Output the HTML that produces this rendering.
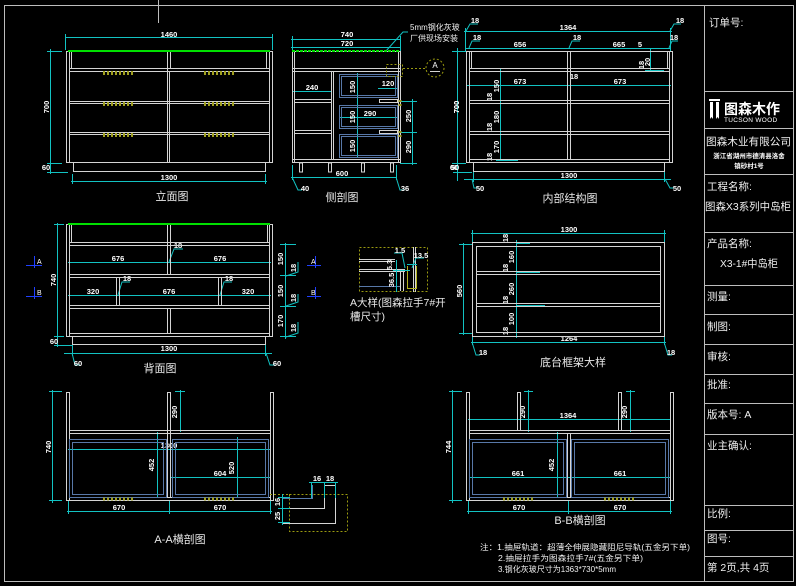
<!DOCTYPE html>
<html><head><meta charset="utf-8"><style>
html,body{margin:0;padding:0;background:#000;}
svg{display:block}
.w{stroke:#d4d4d4;stroke-width:1;fill:none}
.w2{stroke:#bdbdbd;stroke-width:1;fill:none}
.c{stroke:#12c2c2;stroke-width:1;fill:none}
.g{stroke:#00e000;stroke-width:2}
.o{stroke:#9a9a10;stroke-width:1;fill:none;stroke-dasharray:2 2}
.oh{stroke:#a0a020;stroke-width:4;stroke-dasharray:2 2}
.b{stroke:#5878a8;stroke-width:1;fill:none}
.bl{stroke:#2040ff;stroke-width:1}
text{font-family:"Liberation Sans","Noto Sans CJK SC",sans-serif;fill:#fff}
.d{font-size:7.5px;font-weight:bold;text-anchor:middle}
.l{font-size:11px;text-anchor:middle;fill:#e8e8e8}
.t{font-size:10.5px;fill:#f0f0f0}
.n{font-size:8px;fill:#f0f0f0}
</style></head><body>
<svg width="796" height="586" viewBox="0 0 796 586" xmlns="http://www.w3.org/2000/svg">
<rect width="796" height="586" fill="#000"/>
<!-- border -->
<rect x="4.5" y="5.5" width="789" height="576" class="w2"/>
<line x1="158.5" y1="0" x2="158.5" y2="23" class="w2"/>
<line x1="704.5" y1="5" x2="704.5" y2="581" class="w2"/>
<g class="w2">
<line x1="704" y1="91.5" x2="793" y2="91.5"/>
<line x1="704" y1="128.5" x2="793" y2="128.5"/>
<line x1="704" y1="174.5" x2="793" y2="174.5"/>
<line x1="704" y1="232.5" x2="793" y2="232.5"/>
<line x1="704" y1="285.5" x2="793" y2="285.5"/>
<line x1="704" y1="314.5" x2="793" y2="314.5"/>
<line x1="704" y1="344.5" x2="793" y2="344.5"/>
<line x1="704" y1="374.5" x2="793" y2="374.5"/>
<line x1="704" y1="403.5" x2="793" y2="403.5"/>
<line x1="704" y1="434.5" x2="793" y2="434.5"/>
<line x1="704" y1="505.5" x2="793" y2="505.5"/>
<line x1="704" y1="530.5" x2="793" y2="530.5"/>
<line x1="704" y1="556.5" x2="793" y2="556.5"/>
</g>
<!-- title block text -->
<text x="709" y="26" class="t">订单号:</text>
<g>
<path d="M709 99 h11 v2 h-11z M710 102 h3 v17 l-1.5 -2 -1.5 2z M716 102 h3 v17 l-1.5 -2 -1.5 2z" fill="#fff"/>
<text x="724" y="114" style="font-size:14px;font-weight:bold">图森木作</text>
<text x="724" y="122" style="font-size:6.5px;letter-spacing:0.3px">TUCSON WOOD</text>
</g>
<text x="706" y="145" class="t" textLength="85" lengthAdjust="spacingAndGlyphs">图森木业有限公司</text>
<text x="749" y="158" style="font-size:6.5px;font-weight:bold;text-anchor:middle">浙江省湖州市德清县洛舍</text>
<text x="749" y="168" style="font-size:6.5px;font-weight:bold;text-anchor:middle">镇砂村1号</text>
<text x="707" y="190" class="t">工程名称:</text>
<text x="705" y="210" class="t" textLength="86" lengthAdjust="spacingAndGlyphs">图森X3系列中岛柜</text>
<text x="707" y="247" class="t">产品名称:</text>
<text x="720" y="267" class="t" textLength="58" lengthAdjust="spacingAndGlyphs">X3-1#中岛柜</text>
<text x="707" y="300" class="t">测量:</text>
<text x="707" y="330" class="t">制图:</text>
<text x="707" y="360" class="t">审核:</text>
<text x="707" y="388" class="t">批准:</text>
<text x="707" y="418" class="t">版本号: A</text>
<text x="707" y="449" class="t">业主确认:</text>
<text x="707" y="517" class="t">比例:</text>
<text x="707" y="542" class="t">图号:</text>
<text x="707" y="571" class="t">第 2页,共 4页</text>

<!-- ========== 立面图 ========== -->
<g class="c">
<line x1="65" y1="37.5" x2="273" y2="37.5"/>
<line x1="65.5" y1="34" x2="65.5" y2="50"/><line x1="272.5" y1="34" x2="272.5" y2="50"/>
<line x1="50.5" y1="49" x2="50.5" y2="174"/>
<line x1="47" y1="51.5" x2="62" y2="51.5"/><line x1="47" y1="163.5" x2="62" y2="163.5"/><line x1="47" y1="172.5" x2="68" y2="172.5"/>
<line x1="71" y1="181.5" x2="267" y2="181.5"/>
<line x1="72.5" y1="174" x2="72.5" y2="184"/><line x1="265.5" y1="174" x2="265.5" y2="184"/>
</g>
<text x="169" y="37" class="d">1460</text>
<text class="d" transform="translate(49,107) rotate(-90)">700</text>
<text x="46" y="170" class="d">60</text>
<text x="169" y="180" class="d">1300</text>
<g class="w">
<rect x="66.5" y="51.5" width="206" height="111"/>
<line x1="69.5" y1="52" x2="69.5" y2="162"/><line x1="269.5" y1="52" x2="269.5" y2="162"/>
<line x1="71.5" y1="52" x2="71.5" y2="68"/><line x1="266.5" y1="52" x2="266.5" y2="68"/>
<line x1="167.5" y1="52" x2="167.5" y2="162"/><line x1="170.5" y1="52" x2="170.5" y2="68"/><line x1="169.5" y1="71" x2="169.5" y2="162"/>
<line x1="69" y1="68.5" x2="270" y2="68.5"/><line x1="69" y1="71.5" x2="270" y2="71.5"/>
<line x1="69" y1="101.5" x2="270" y2="101.5"/><line x1="69" y1="103.5" x2="270" y2="103.5"/>
<line x1="69" y1="132.5" x2="270" y2="132.5"/><line x1="69" y1="134.5" x2="270" y2="134.5"/>
<rect x="73.5" y="162.5" width="192" height="9"/>
</g>
<line x1="68" y1="51" x2="270" y2="51" class="g"/>
<g class="oh">
<line x1="103" y1="73" x2="134" y2="73"/><line x1="204" y1="73" x2="235" y2="73"/>
<line x1="103" y1="104" x2="134" y2="104"/><line x1="204" y1="104" x2="235" y2="104"/>
<line x1="103" y1="135" x2="134" y2="135"/><line x1="204" y1="135" x2="235" y2="135"/>
</g>
<text x="172" y="200" class="l">立面图</text>

<!-- ========== 侧剖图 ========== -->
<g class="c">
<line x1="291" y1="39.5" x2="401" y2="39.5"/>
<line x1="291" y1="47.5" x2="401" y2="47.5"/>
<line x1="292.5" y1="36" x2="292.5" y2="52"/><line x1="400.5" y1="36" x2="400.5" y2="52"/>
<polyline points="386,51 403,32 408,32"/>
<line x1="457.5" y1="48" x2="457.5" y2="170"/>
<line x1="452" y1="51.5" x2="462" y2="51.5"/><line x1="452" y1="163.5" x2="462" y2="163.5"/>
<line x1="412.5" y1="99" x2="412.5" y2="165"/>
<line x1="400" y1="101.5" x2="417" y2="101.5"/><line x1="400" y1="132.5" x2="417" y2="132.5"/><line x1="400" y1="163.5" x2="417" y2="163.5"/>
<line x1="357.5" y1="73" x2="357.5" y2="158"/>
<line x1="292" y1="91.5" x2="331" y2="91.5"/>
<line x1="378" y1="88.5" x2="398" y2="88.5"/>
<line x1="339" y1="117.5" x2="398" y2="117.5"/>
<line x1="291" y1="177.5" x2="397" y2="177.5"/>
<line x1="292.5" y1="165" x2="292.5" y2="180"/><line x1="396.5" y1="165" x2="396.5" y2="180"/>
<polyline points="292,177 298,190 302,190"/>
<polyline points="396,177 400,190 404,190"/>
</g>
<text x="347" y="37" class="d">740</text>
<text x="347" y="46" class="d">720</text>
<text x="410" y="30" class="n">5mm钢化灰玻</text>
<text x="410" y="41" class="n">厂供现场安装</text>
<text class="d" transform="translate(459,107) rotate(-90)">700</text>
<text x="454" y="170" class="d">60</text>
<text class="d" transform="translate(411,116) rotate(-90)">250</text>
<text class="d" transform="translate(411,147) rotate(-90)">290</text>
<text class="d" transform="translate(355,87) rotate(-90)">150</text>
<text class="d" transform="translate(355,117) rotate(-90)">150</text>
<text class="d" transform="translate(355,146) rotate(-90)">150</text>
<text x="312" y="90" class="d">240</text>
<text x="388" y="86" class="d">120</text>
<text x="370" y="116" class="d">290</text>
<text x="342" y="176" class="d">600</text>
<text x="305" y="191" class="d">40</text>
<text x="405" y="191" class="d">36</text>
<g class="w">
<rect x="292.5" y="51.5" width="108" height="111"/>
<line x1="294.5" y1="52" x2="294.5" y2="162"/><line x1="398.5" y1="52" x2="398.5" y2="162"/>
<line x1="293" y1="68.5" x2="400" y2="68.5"/><line x1="293" y1="71.5" x2="400" y2="71.5"/>
<line x1="331.5" y1="71" x2="331.5" y2="160"/><line x1="333.5" y1="71" x2="333.5" y2="160"/>
<line x1="294" y1="99.5" x2="331" y2="99.5"/><line x1="294" y1="102.5" x2="331" y2="102.5"/>
<line x1="294" y1="130.5" x2="331" y2="130.5"/><line x1="294" y1="133.5" x2="331" y2="133.5"/>
<line x1="293" y1="159.5" x2="400" y2="159.5"/>
<rect x="379.5" y="99.5" width="18" height="3"/>
<rect x="379.5" y="130.5" width="18" height="3"/>
<rect x="299.5" y="163" width="3" height="9"/><rect x="328.5" y="163" width="3" height="9"/>
<rect x="361.5" y="163" width="3" height="9"/><rect x="390.5" y="163" width="3" height="9"/>
</g>
<g class="b">
<rect x="339.5" y="74.5" width="58" height="23"/><rect x="341.5" y="76.5" width="54" height="19"/>
<rect x="339.5" y="105.5" width="58" height="23"/><rect x="341.5" y="107.5" width="54" height="19"/>
<rect x="339.5" y="134.5" width="58" height="23"/><rect x="341.5" y="136.5" width="54" height="19"/>
</g>
<line x1="292" y1="51" x2="400" y2="51" class="g" style="stroke-dasharray:3 1"/>
<rect x="386.5" y="64.5" width="16" height="12" class="o"/>
<line x1="403" y1="68.5" x2="426" y2="68.5" class="o"/>
<circle cx="435" cy="68" r="9" class="o"/>
<text x="435" y="68" style="font-size:8px;text-anchor:middle">A</text>
<line x1="430" y1="71.5" x2="440" y2="71.5" class="w"/>
<g class="oh" style="stroke-width:3"><line x1="400" y1="100" x2="400" y2="106"/><line x1="400" y1="131" x2="400" y2="137"/></g>
<text x="342" y="201" class="l">侧剖图</text>

<!-- ========== 内部结构图 ========== -->
<g class="c">
<line x1="464" y1="31.5" x2="672" y2="31.5"/>
<line x1="465.5" y1="28" x2="465.5" y2="52"/><line x1="670.5" y1="28" x2="670.5" y2="52"/>
<polyline points="466,31 470,24 478,24"/><polyline points="670,31 674,24 681,24"/>
<line x1="466" y1="48.5" x2="671" y2="48.5"/>
<polyline points="469,48 472,41 480,41"/><polyline points="569,48 572,41 580,41"/><polyline points="669,48 672,41 678,41"/>
<line x1="467" y1="85.5" x2="671" y2="85.5"/>
<line x1="500.5" y1="69" x2="500.5" y2="161"/>
<line x1="496" y1="100.5" x2="512" y2="100.5"/><line x1="496" y1="131.5" x2="512" y2="131.5"/><line x1="496" y1="160.5" x2="518" y2="160.5"/>
<line x1="650.5" y1="48" x2="650.5" y2="72"/><line x1="645" y1="51.5" x2="664" y2="51.5"/><line x1="645" y1="70.5" x2="664" y2="70.5"/>
<line x1="457.5" y1="49" x2="457.5" y2="181"/>
<line x1="453" y1="51.5" x2="466" y2="51.5"/><line x1="453" y1="163.5" x2="466" y2="163.5"/><line x1="453" y1="172.5" x2="472" y2="172.5"/>
<line x1="464" y1="179.5" x2="671" y2="179.5"/>
<line x1="473.5" y1="170" x2="473.5" y2="182"/><line x1="664.5" y1="170" x2="664.5" y2="182"/>
<polyline points="472,179 474,188 478,188"/><polyline points="665,179 670,188 674,188"/>
</g>
<text x="568" y="30" class="d">1364</text>
<text x="475" y="23" class="d">18</text><text x="680" y="23" class="d">18</text>
<text x="477" y="40" class="d">18</text><text x="577" y="40" class="d">18</text><text x="674" y="40" class="d">18</text>
<text x="520" y="47" class="d">656</text><text x="619" y="47" class="d">665</text>
<text x="640" y="47" class="d">5</text>
<text class="d" transform="translate(650,62) rotate(-90)">20</text>
<text class="d" transform="translate(644,65) rotate(-90)">18</text>
<text x="520" y="84" class="d">673</text><text x="620" y="84" class="d">673</text>
<text x="574" y="79" class="d">18</text>
<text class="d" transform="translate(499,86) rotate(-90)">150</text>
<text class="d" transform="translate(499,117) rotate(-90)">180</text>
<text class="d" transform="translate(499,147) rotate(-90)">170</text>
<text class="d" transform="translate(492,97) rotate(-90)">18</text>
<text class="d" transform="translate(492,127) rotate(-90)">18</text>
<text class="d" transform="translate(492,157) rotate(-90)">18</text>
<text class="d" transform="translate(459,107) rotate(-90)">700</text>
<text x="455" y="170" class="d">50</text>
<text x="569" y="178" class="d">1300</text>
<text x="480" y="191" class="d">50</text><text x="677" y="191" class="d">50</text>
<g class="w">
<rect x="466.5" y="51.5" width="206" height="111"/>
<line x1="469.5" y1="52" x2="469.5" y2="162"/><line x1="669.5" y1="52" x2="669.5" y2="162"/>
<line x1="471.5" y1="52" x2="471.5" y2="68"/><line x1="667.5" y1="52" x2="667.5" y2="68"/>
<line x1="567.5" y1="52" x2="567.5" y2="160"/><line x1="570.5" y1="52" x2="570.5" y2="160"/>
<line x1="469" y1="68.5" x2="670" y2="68.5"/><line x1="469" y1="71.5" x2="670" y2="71.5"/>
<line x1="469" y1="100.5" x2="670" y2="100.5"/><line x1="469" y1="103.5" x2="670" y2="103.5"/>
<line x1="469" y1="131.5" x2="670" y2="131.5"/><line x1="469" y1="134.5" x2="670" y2="134.5"/>
<line x1="469" y1="159.5" x2="670" y2="159.5"/>
<rect x="473.5" y="162.5" width="191" height="9"/>
</g>
<text x="570" y="202" class="l">内部结构图</text>

<!-- ========== 背面图 ========== -->
<g class="c">
<line x1="57.5" y1="223" x2="57.5" y2="347"/>
<line x1="54" y1="224.5" x2="64" y2="224.5"/><line x1="54" y1="336.5" x2="64" y2="336.5"/><line x1="54" y1="345.5" x2="72" y2="345.5"/>
<line x1="64" y1="353.5" x2="272" y2="353.5"/>
<line x1="72.5" y1="342" x2="72.5" y2="356"/><line x1="265.5" y1="342" x2="265.5" y2="356"/>
<polyline points="72,353 75,365 80,365"/><polyline points="266,353 270,365 275,365"/>
<line x1="68" y1="262.5" x2="271" y2="262.5"/>
<line x1="68" y1="295.5" x2="271" y2="295.5"/>
<polyline points="169,262 174,249 183,249"/>
<polyline points="118,295 122,282 130,282"/>
<polyline points="220,295 224,282 232,282"/>
<line x1="285.5" y1="243" x2="285.5" y2="339"/>
<line x1="280" y1="244.5" x2="296" y2="244.5"/><line x1="280" y1="275.5" x2="296" y2="275.5"/><line x1="280" y1="306.5" x2="296" y2="306.5"/><line x1="280" y1="336.5" x2="296" y2="336.5"/>
<polyline points="286,276 298,272 298,262"/><polyline points="286,306 298,302 298,294"/><polyline points="286,337 298,333 298,322"/>
</g>
<text class="d" transform="translate(56,280) rotate(-90)">740</text>
<text x="54" y="344" class="d">60</text>
<text x="169" y="351" class="d">1300</text>
<text x="78" y="366" class="d">60</text><text x="277" y="366" class="d">60</text>
<text x="118" y="261" class="d">676</text><text x="220" y="261" class="d">676</text>
<text x="178" y="248" class="d">18</text>
<text x="93" y="294" class="d">320</text><text x="169" y="294" class="d">676</text><text x="248" y="294" class="d">320</text>
<text x="127" y="281" class="d">18</text><text x="229" y="281" class="d">18</text>
<text class="d" transform="translate(283,259) rotate(-90)">150</text>
<text class="d" transform="translate(283,291) rotate(-90)">150</text>
<text class="d" transform="translate(283,321) rotate(-90)">170</text>
<text class="d" transform="translate(296,268) rotate(-90)">18</text>
<text class="d" transform="translate(296,298) rotate(-90)">18</text>
<text class="d" transform="translate(296,328) rotate(-90)">18</text>
<g class="w">
<rect x="66.5" y="224.5" width="206" height="112"/>
<line x1="69.5" y1="225" x2="69.5" y2="336"/><line x1="269.5" y1="225" x2="269.5" y2="336"/>
<line x1="71.5" y1="225" x2="71.5" y2="242"/><line x1="267.5" y1="225" x2="267.5" y2="242"/>
<line x1="69" y1="242.5" x2="270" y2="242.5"/><line x1="69" y1="245.5" x2="270" y2="245.5"/>
<line x1="69" y1="274.5" x2="270" y2="274.5"/><line x1="69" y1="277.5" x2="270" y2="277.5"/>
<line x1="69" y1="305.5" x2="270" y2="305.5"/><line x1="69" y1="308.5" x2="270" y2="308.5"/>
<line x1="69" y1="333.5" x2="270" y2="333.5"/>
<line x1="167.5" y1="225" x2="167.5" y2="274"/><line x1="170.5" y1="225" x2="170.5" y2="274"/>
<line x1="167.5" y1="308" x2="167.5" y2="333"/><line x1="170.5" y1="308" x2="170.5" y2="333"/>
<line x1="116.5" y1="277" x2="116.5" y2="305"/><line x1="119.5" y1="277" x2="119.5" y2="305"/>
<line x1="218.5" y1="277" x2="218.5" y2="305"/><line x1="221.5" y1="277" x2="221.5" y2="305"/>
<rect x="72.5" y="336.5" width="193" height="8"/>
</g>
<line x1="68" y1="224" x2="270" y2="224" class="g"/>
<!-- section markers -->
<g class="bl">
<line x1="34.5" y1="256" x2="34.5" y2="268"/><line x1="26" y1="265.5" x2="42" y2="265.5"/>
<line x1="34.5" y1="287" x2="34.5" y2="299"/><line x1="26" y1="296.5" x2="42" y2="296.5"/>
<line x1="315.5" y1="256" x2="315.5" y2="268"/><line x1="307" y1="265.5" x2="321" y2="265.5"/>
<line x1="315.5" y1="287" x2="315.5" y2="299"/><line x1="307" y1="296.5" x2="321" y2="296.5"/>
</g>
<text x="37" y="264" style="font-size:7px">A</text><text x="37" y="295" style="font-size:7px">B</text>
<text x="311" y="264" style="font-size:7px">A</text><text x="311" y="295" style="font-size:7px">B</text>
<text x="160" y="372" class="l">背面图</text>

<!-- ========== A大样 ========== -->
<rect x="359.5" y="247.5" width="68" height="44" class="o"/>
<g class="w">
<line x1="359" y1="259.5" x2="395" y2="259.5"/><line x1="359" y1="261.5" x2="395" y2="261.5"/>
<line x1="359" y1="269.5" x2="405" y2="269.5"/><line x1="359" y1="271.5" x2="405" y2="271.5"/>
<line x1="413.5" y1="247" x2="413.5" y2="292"/><line x1="415.5" y1="247" x2="415.5" y2="292"/>
<line x1="400.5" y1="271" x2="400.5" y2="291"/><line x1="403.5" y1="271" x2="403.5" y2="291"/>
</g>
<line x1="359" y1="286.5" x2="400" y2="286.5" class="b"/>
<path d="M407.5 266 V288.5 H416.5 V266" stroke="#b0b020" fill="none"/>
<g class="c">
<line x1="393" y1="270.5" x2="410" y2="270.5"/>
<line x1="396.5" y1="260" x2="396.5" y2="292"/>
<polyline points="405,268 402,253 394,253"/>
<polyline points="412,268 416,258 424,258"/>
<line x1="407" y1="264.5" x2="417" y2="264.5"/>
</g>
<text x="400" y="253" class="d">1.5</text>
<text x="421" y="258" class="d">13.5</text>
<text class="d" transform="translate(392,265) rotate(-90)">5.3</text>
<text class="d" transform="translate(394,280) rotate(-90)">36.5</text>
<text x="350" y="306" style="font-size:10.5px;fill:#e8e8e8">A大样(图森拉手7#开</text>
<text x="350" y="320" style="font-size:10.5px;fill:#e8e8e8">槽尺寸)</text>

<!-- ========== 底台框架大样 ========== -->
<g class="c">
<line x1="471" y1="233.5" x2="666" y2="233.5"/>
<line x1="472.5" y1="230" x2="472.5" y2="242"/><line x1="664.5" y1="230" x2="664.5" y2="242"/>
<line x1="463.5" y1="243" x2="463.5" y2="335"/>
<line x1="459" y1="244.5" x2="472" y2="244.5"/><line x1="459" y1="333.5" x2="472" y2="333.5"/>
<line x1="516.5" y1="240" x2="516.5" y2="338"/>
<line x1="516" y1="243.5" x2="530" y2="243.5"/>
<line x1="516" y1="272.5" x2="540" y2="272.5"/><line x1="516" y1="305.5" x2="545" y2="305.5"/><line x1="516" y1="336.5" x2="550" y2="336.5"/>
<line x1="471" y1="342.5" x2="666" y2="342.5"/>
<line x1="472.5" y1="337" x2="472.5" y2="345"/><line x1="664.5" y1="337" x2="664.5" y2="345"/>
<polyline points="472,342 476,355 480,355"/><polyline points="664,342 668,355 672,355"/>
</g>
<text x="569" y="232" class="d">1300</text>
<text class="d" transform="translate(462,291) rotate(-90)">560</text>
<text class="d" transform="translate(508,238) rotate(-90)">18</text>
<text class="d" transform="translate(514,257) rotate(-90)">160</text>
<text class="d" transform="translate(508,268) rotate(-90)">18</text>
<text class="d" transform="translate(514,289) rotate(-90)">260</text>
<text class="d" transform="translate(508,300) rotate(-90)">18</text>
<text class="d" transform="translate(514,319) rotate(-90)">100</text>
<text class="d" transform="translate(508,331) rotate(-90)">18</text>
<text x="569" y="341" class="d">1264</text>
<text x="483" y="355" class="d">18</text><text x="671" y="355" class="d">18</text>
<g class="w">
<rect x="472.5" y="242.5" width="192" height="94"/>
<rect x="476.5" y="246.5" width="184" height="86"/>
<line x1="476" y1="271.5" x2="660" y2="271.5"/><line x1="476" y1="274.5" x2="660" y2="274.5"/>
<line x1="476" y1="303.5" x2="660" y2="303.5"/><line x1="476" y1="306.5" x2="660" y2="306.5"/>
</g>
<text x="573" y="366" class="l">底台框架大样</text>

<!-- ========== A-A横剖图 ========== -->
<g class="c">
<line x1="52.5" y1="390" x2="52.5" y2="503"/>
<line x1="49" y1="391.5" x2="62" y2="391.5"/><line x1="49" y1="500.5" x2="62" y2="500.5"/>
<line x1="180.5" y1="390" x2="180.5" y2="432"/><line x1="175" y1="391.5" x2="185" y2="391.5"/>
<line x1="68" y1="449.5" x2="271" y2="449.5"/>
<line x1="157.5" y1="432" x2="157.5" y2="498"/><line x1="153" y1="433.5" x2="170" y2="433.5"/>
<line x1="170" y1="477.5" x2="271" y2="477.5"/>
<line x1="237.5" y1="437" x2="237.5" y2="498"/>
<line x1="67" y1="511.5" x2="272" y2="511.5"/>
<line x1="68.5" y1="500" x2="68.5" y2="514"/><line x1="169.5" y1="500" x2="169.5" y2="514"/><line x1="270.5" y1="500" x2="270.5" y2="514"/>
</g>
<text class="d" transform="translate(51,447) rotate(-90)">740</text>
<text class="d" transform="translate(177,412) rotate(-90)">290</text>
<text x="169" y="448" class="d">1300</text>
<text class="d" transform="translate(154,465) rotate(-90)">452</text>
<text x="220" y="476" class="d">604</text>
<text class="d" transform="translate(234,468) rotate(-90)">520</text>
<text x="119" y="510" class="d">670</text><text x="220" y="510" class="d">670</text>
<g class="w">
<rect x="66.5" y="392.5" width="3" height="108"/>
<rect x="167.5" y="392.5" width="3" height="105"/>
<rect x="270.5" y="392.5" width="3" height="108"/>
<line x1="69" y1="430.5" x2="270" y2="430.5"/><line x1="69" y1="433.5" x2="270" y2="433.5"/>
<line x1="69" y1="497.5" x2="270" y2="497.5"/><line x1="66" y1="500.5" x2="273" y2="500.5"/>
</g>
<g class="b">
<rect x="69.5" y="439.5" width="97" height="58"/><rect x="72.5" y="442.5" width="91" height="52"/>
<rect x="172.5" y="439.5" width="96" height="58"/><rect x="175.5" y="442.5" width="90" height="52"/>
</g>
<g class="oh" style="stroke-width:3"><line x1="103" y1="499" x2="135" y2="499"/><line x1="204" y1="499" x2="235" y2="499"/></g>
<!-- profile detail -->
<rect x="289.5" y="494.5" width="58" height="37" class="o"/>
<line x1="270" y1="494.5" x2="289" y2="494.5" class="o"/>
<g class="w">
<path d="M324.5 485.5 H335.5 V523.5 H282.5 V508.5 H324.5 Z"/>
</g>
<path d="M282.5 498.5 H312.5 V485" class="b"/>
<g class="c">
<line x1="282.5" y1="494" x2="282.5" y2="525"/>
<line x1="278" y1="497.5" x2="290" y2="497.5"/><line x1="278" y1="508.5" x2="290" y2="508.5"/><line x1="278" y1="522.5" x2="290" y2="522.5"/>
<line x1="311.5" y1="482" x2="311.5" y2="498"/><line x1="324.5" y1="482" x2="324.5" y2="498"/><line x1="335.5" y1="482" x2="335.5" y2="498"/>
<line x1="309" y1="482.5" x2="338" y2="482.5"/>
</g>
<text x="317" y="481" class="d">16</text><text x="330" y="481" class="d">18</text>
<text class="d" transform="translate(280,502) rotate(-90)">16</text>
<text class="d" transform="translate(280,516) rotate(-90)">25</text>
<text x="180" y="543" class="l">A-A横剖图</text>

<!-- ========== B-B横剖图 ========== -->
<g class="c">
<line x1="452.5" y1="390" x2="452.5" y2="503"/>
<line x1="449" y1="391.5" x2="462" y2="391.5"/><line x1="449" y1="500.5" x2="462" y2="500.5"/>
<line x1="468" y1="419.5" x2="671" y2="419.5"/>
<line x1="528.5" y1="390" x2="528.5" y2="432"/><line x1="524" y1="391.5" x2="533" y2="391.5"/>
<line x1="630.5" y1="390" x2="630.5" y2="432"/><line x1="626" y1="391.5" x2="635" y2="391.5"/>
<line x1="557.5" y1="432" x2="557.5" y2="498"/><line x1="553" y1="433.5" x2="567" y2="433.5"/>
<line x1="469" y1="477.5" x2="671" y2="477.5"/>
<line x1="467" y1="511.5" x2="672" y2="511.5"/>
<line x1="468.5" y1="500" x2="468.5" y2="514"/><line x1="568.5" y1="500" x2="568.5" y2="514"/><line x1="670.5" y1="500" x2="670.5" y2="514"/>
</g>
<text class="d" transform="translate(451,447) rotate(-90)">744</text>
<text x="568" y="418" class="d">1364</text>
<text class="d" transform="translate(525,412) rotate(-90)">290</text>
<text class="d" transform="translate(627,412) rotate(-90)">290</text>
<text class="d" transform="translate(554,465) rotate(-90)">452</text>
<text x="518" y="476" class="d">661</text><text x="620" y="476" class="d">661</text>
<text x="519" y="510" class="d">670</text><text x="620" y="510" class="d">670</text>
<g class="w">
<rect x="466.5" y="392.5" width="3" height="108"/>
<rect x="517.5" y="392.5" width="3" height="38"/>
<rect x="618.5" y="392.5" width="3" height="38"/>
<rect x="670.5" y="392.5" width="3" height="108"/>
<rect x="567.5" y="433.5" width="3" height="64"/>
<line x1="469" y1="430.5" x2="670" y2="430.5"/><line x1="469" y1="433.5" x2="670" y2="433.5"/>
<line x1="469" y1="497.5" x2="670" y2="497.5"/><line x1="466" y1="500.5" x2="673" y2="500.5"/>
</g>
<g class="b">
<rect x="469.5" y="439.5" width="97" height="58"/><rect x="472.5" y="442.5" width="91" height="52"/>
<rect x="571.5" y="439.5" width="97" height="58"/><rect x="574.5" y="442.5" width="91" height="52"/>
</g>
<g class="oh" style="stroke-width:3"><line x1="503" y1="499" x2="535" y2="499"/><line x1="604" y1="499" x2="635" y2="499"/></g>
<text x="580" y="524" class="l">B-B横剖图</text>

<!-- notes -->
<text x="480" y="550" class="n" textLength="210" lengthAdjust="spacingAndGlyphs">注：1.抽屉轨道：超薄全伸展隐藏阻尼导轨(五金另下单)</text>
<text x="498" y="561" class="n" textLength="145" lengthAdjust="spacingAndGlyphs">2.抽屉拉手为图森拉手7#(五金另下单)</text>
<text x="498" y="572" class="n" textLength="118" lengthAdjust="spacingAndGlyphs">3.钢化灰玻尺寸为1363*730*5mm</text>
</svg>
</body></html>
